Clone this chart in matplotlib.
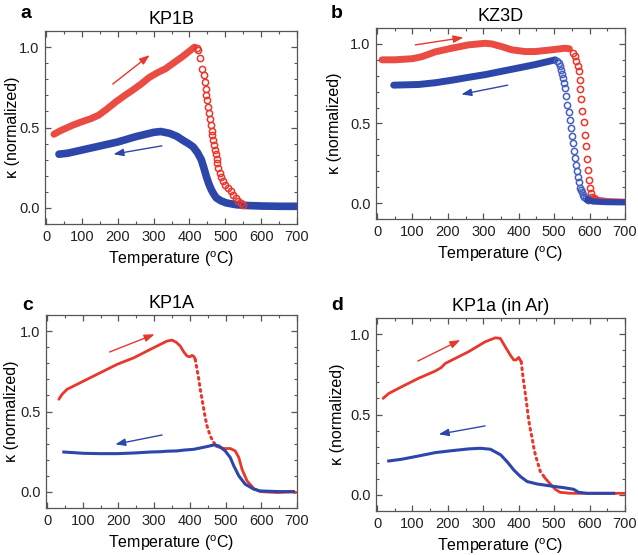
import matplotlib
matplotlib.use("Agg")
import matplotlib.pyplot as plt
from matplotlib.ticker import MultipleLocator

plt.rcParams["font.family"] = ["Liberation Sans", "DejaVu Sans"]
plt.rcParams["mathtext.fontset"] = "custom"
plt.rcParams["mathtext.rm"] = "Liberation Sans"

RED = "#e8372d"
BLUE = "#2d46aa"
BLUE_LIGHT = "#4660c0"

# ---- panel a: KP1B (open circles) ----
a_heat_T = [22, 40, 55, 75, 100, 125, 147, 170, 195, 220, 240, 265, 287, 310, 333, 355, 380, 400, 414]
a_heat_k = [0.458, 0.48, 0.495, 0.515, 0.536, 0.555, 0.577, 0.615, 0.66, 0.70, 0.73, 0.77, 0.81, 0.84,
            0.865, 0.90, 0.94, 0.975, 1.0]
a_drop_T = [420, 424, 430, 436, 440, 443, 445, 447, 450, 452, 455, 457, 459, 462, 464, 467, 469, 471,
            473, 476, 478, 481, 485, 489, 494, 500, 508, 515, 522, 529, 536, 543, 550]
a_drop_k = [0.995, 0.98, 0.93, 0.866, 0.825, 0.78, 0.74, 0.70, 0.67, 0.63, 0.59, 0.55, 0.515, 0.48,
            0.454, 0.42, 0.39, 0.36, 0.335, 0.305, 0.28, 0.25, 0.217, 0.19, 0.165, 0.145, 0.124, 0.103,
            0.082, 0.06, 0.041, 0.03, 0.02]
a_tail_T = [550, 600, 650, 700]
a_tail_k = [0.015, 0.008, 0.01, 0.01]
a_cool_T = [36, 60, 100, 150, 200, 250, 300, 320, 344, 365, 382, 397, 410, 422, 433, 440, 447, 454,
            461, 468, 475, 489, 503, 530, 560, 600, 650, 700]
a_cool_k = [0.334, 0.34, 0.36, 0.385, 0.41, 0.443, 0.47, 0.475, 0.464, 0.445, 0.42, 0.40, 0.38, 0.345,
            0.30, 0.25, 0.196, 0.15, 0.113, 0.085, 0.062, 0.043, 0.031, 0.02, 0.015, 0.012, 0.01, 0.01]

# ---- panel b: KZ3D (open circles) ----
b_heat_T = [14, 50, 99, 127, 164, 211, 258, 305, 324, 352, 380, 418, 446, 493, 531, 543]
b_heat_k = [0.90, 0.90, 0.907, 0.92, 0.95, 0.973, 0.994, 1.004, 1.0, 0.983, 0.963, 0.952, 0.952,
            0.963, 0.973, 0.969]
b_drop_T = [553, 560, 563, 566, 569, 572, 574, 577, 580, 583, 586, 589, 593, 595, 598, 601, 604, 608,
            612, 616]
b_drop_k = [0.946, 0.921, 0.894, 0.859, 0.828, 0.776, 0.714, 0.652, 0.58, 0.507, 0.43, 0.356, 0.28,
            0.205, 0.145, 0.097, 0.062, 0.041, 0.03, 0.027]
b_tail_T = [616, 650, 700]
b_tail_k = [0.025, 0.015, 0.01]
b_cool_T = [47, 117, 164, 211, 258, 305, 352, 399, 446, 484, 503]
b_cool_k = [0.741, 0.745, 0.756, 0.772, 0.79, 0.807, 0.828, 0.849, 0.87, 0.89, 0.90]
b_cdrop_T = [508, 513, 516, 519, 522, 525, 528, 531, 534, 537, 541, 544, 548, 551, 553, 555, 559, 562,
             565, 568, 571, 574, 577, 579, 582, 585, 590, 595]
b_cdrop_k = [0.895, 0.88, 0.86, 0.838, 0.81, 0.783, 0.753, 0.724, 0.672, 0.619, 0.573, 0.522, 0.47,
             0.424, 0.379, 0.329, 0.283, 0.242, 0.202, 0.165, 0.13, 0.097, 0.08, 0.068, 0.053, 0.041,
             0.03, 0.02]
b_ctail_T = [595, 610, 650, 700]
b_ctail_k = [0.02, 0.01, 0.006, 0.005]

# ---- panel c: KP1A (lines/dots) ----
c_heat_T = [33, 42, 56, 84, 121, 149, 196, 243, 289, 336, 350, 362, 373, 383, 392, 400, 406, 412, 415]
c_heat_k = [0.576, 0.607, 0.638, 0.669, 0.71, 0.741, 0.793, 0.834, 0.886, 0.938, 0.944, 0.93, 0.907,
            0.87, 0.845, 0.84, 0.849, 0.84, 0.824]
c_drop_T = [415, 420, 425, 429, 434, 439, 443, 448, 457, 467, 476]
c_drop_k = [0.824, 0.762, 0.70, 0.638, 0.576, 0.514, 0.462, 0.41, 0.348, 0.307, 0.282]
c_tail_T = [476, 495, 513, 527, 537, 546, 560, 579, 597, 644, 686, 695]
c_tail_k = [0.282, 0.27, 0.27, 0.255, 0.214, 0.141, 0.069, 0.021, 0.002, -0.004, 0.0, -0.003]
c_cool_T = [47, 103, 149, 196, 243, 289, 317, 336, 364, 383, 411, 448, 467, 481, 499, 513, 523, 537,
            555, 579, 597, 650, 690]
c_cool_k = [0.248, 0.24, 0.238, 0.238, 0.242, 0.248, 0.25, 0.253, 0.255, 0.26, 0.265, 0.282, 0.292,
            0.286, 0.255, 0.214, 0.162, 0.10, 0.048, 0.017, 0.006, 0.002, 0.002]

# ---- panel d: KP1a (in Ar) ----
d_heat_T = [17, 33, 70, 117, 164, 180, 193, 211, 258, 305, 334, 348, 362, 376, 386, 393, 400, 407]
d_heat_k = [0.60, 0.631, 0.673, 0.725, 0.77, 0.79, 0.818, 0.838, 0.89, 0.952, 0.977, 0.973, 0.921,
            0.87, 0.839, 0.84, 0.855, 0.828]
d_drop_T = [407, 412, 417, 421, 424, 428, 433, 438, 442, 447, 454, 461, 475]
d_drop_k = [0.828, 0.735, 0.652, 0.59, 0.538, 0.466, 0.404, 0.352, 0.30, 0.248, 0.197, 0.145, 0.103]
d_tail_T = [475, 489, 503, 517, 546, 574, 620, 668, 696]
d_tail_k = [0.103, 0.068, 0.035, 0.016, 0.01, 0.01, 0.01, 0.01, 0.01]
d_cool_T = [33, 70, 117, 164, 211, 258, 292, 320, 349, 367, 386, 405, 424, 452, 489, 527, 555, 569,
            593, 668]
d_cool_k = [0.211, 0.222, 0.242, 0.263, 0.275, 0.286, 0.29, 0.284, 0.249, 0.207, 0.155, 0.114, 0.083,
            0.068, 0.056, 0.045, 0.035, 0.016, 0.01, 0.01]

# arrows: (T_start, k_start, T_end, k_end)
arrows_heat = {"a": (186, 0.77, 289, 0.95), "b": (108, 0.994, 244, 1.04),
               "c": (175, 0.87, 301, 0.98), "d": (115, 0.832, 235, 0.963)}
arrows_cool = {"a": (323, 0.386, 188, 0.334), "b": (369, 0.741, 238, 0.683),
               "c": (322, 0.354, 191, 0.296), "d": (305, 0.429, 174, 0.377)}

titles = {"a": "KP1B", "b": "KZ3D", "c": "KP1A", "d": "KP1a (in Ar)"}

W, H = 638, 555
# axes rects in pixels: left, top, right, bottom
rects = {"a": (45, 31, 297, 224), "b": (376, 28, 625, 219),
         "c": (46, 315, 297, 508), "d": (376, 318, 625, 511)}
letter_pos = {"a": (20, 18), "b": (331, 18), "c": (22, 310), "d": (331, 310)}
ylabel_x = {"a": -0.10, "b": -0.136, "c": -0.108, "d": -0.124}

fig = plt.figure(figsize=(W / 100, H / 100), dpi=100)
axes = {}
for key, (l, t, r, b) in rects.items():
    ax = fig.add_axes([l / W, 1 - b / H, (r - l) / W, (b - t) / H])
    axes[key] = ax
    ax.set_xlim(-3, 700)
    ax.set_ylim(-0.1, 1.1)
    ax.xaxis.set_major_locator(MultipleLocator(100))
    ax.xaxis.set_minor_locator(MultipleLocator(50))
    ax.set_yticks([0.0, 0.5, 1.0])
    ax.yaxis.set_minor_locator(MultipleLocator(0.1))
    ax.tick_params(which="both", direction="in", top=True, right=True, color="#555555",
                   labelsize=10.5, labelcolor="#222222")
    ax.tick_params(which="major", length=4, width=0.9, pad=4)
    ax.tick_params(which="minor", length=2.5, width=0.8)
    for s in ax.spines.values():
        s.set_color("#555555")
        s.set_linewidth(0.9)
    ax.yaxis.set_major_formatter(matplotlib.ticker.FormatStrFormatter("%.1f"))
    ax.set_title(titles[key], fontsize=13, pad=5)
    ax.set_xlabel(r"Temperature ($^{\mathrm{o}}$C)", fontsize=11.5, labelpad=4)
    ax.set_ylabel("κ (normalized)", fontsize=11.5)
    ax.yaxis.set_label_coords(ylabel_x[key], 0.5)
    fig.text(letter_pos[key][0] / W, 1 - letter_pos[key][1] / H, key, fontsize=14,
             fontweight="bold", va="baseline", ha="left")

circ = dict(marker="o", linestyle="none", markersize=4.5, mfc="none", mew=1.1)

# panel a
ax = axes["a"]
ax.plot(a_tail_T, a_tail_k, color=RED, lw=4, alpha=0.85)
ax.plot(a_cool_T, a_cool_k, color=BLUE, lw=5.5, solid_capstyle="round")
ax.plot(a_heat_T, a_heat_k, color=RED, lw=5, alpha=0.9, solid_capstyle="round")
ax.plot(a_drop_T, a_drop_k, color=RED, **circ)

# panel b
ax = axes["b"]
ax.plot(b_tail_T, b_tail_k, color=RED, lw=4, alpha=0.85)
ax.plot(b_heat_T, b_heat_k, color=RED, lw=5, alpha=0.9, solid_capstyle="round")
ax.plot(b_drop_T, b_drop_k, color=RED, **circ)
ax.plot(b_cool_T, b_cool_k, color=BLUE, lw=5, solid_capstyle="round")
ax.plot(b_cdrop_T, b_cdrop_k, color=BLUE_LIGHT, **circ)
ax.plot(b_ctail_T, b_ctail_k, color=BLUE, lw=4.5)

# panels c and d
for key, ht, hk, dt, dk, tt, tk, ct, ck in [
        ("c", c_heat_T, c_heat_k, c_drop_T, c_drop_k, c_tail_T, c_tail_k, c_cool_T, c_cool_k),
        ("d", d_heat_T, d_heat_k, d_drop_T, d_drop_k, d_tail_T, d_tail_k, d_cool_T, d_cool_k)]:
    ax = axes[key]
    ax.plot(ht, hk, color=RED, lw=2, solid_capstyle="round")
    ax.plot(dt, dk, color=RED, lw=2.2, linestyle=(0, (0.6, 1.4)), dash_capstyle="round")
    ax.plot(tt, tk, color=RED, lw=2)
    ax.plot(ct, ck, color=BLUE, lw=2.2)

for key, ax in axes.items():
    for (x0, y0, x1, y1), col in [(arrows_heat[key], RED), (arrows_cool[key], BLUE)]:
        ax.annotate("", xy=(x1, y1), xytext=(x0, y0),
                    arrowprops=dict(arrowstyle="-|>,head_length=0.6,head_width=0.22",
                                    color=col, lw=1.0, shrinkA=0, shrinkB=0))

fig.savefig("out.png", dpi=100)
